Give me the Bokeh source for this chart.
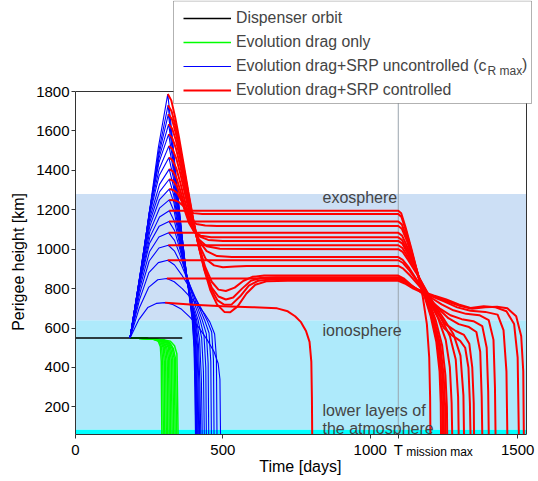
from bokeh.plotting import figure
from bokeh.models import (Range1d, BoxAnnotation, Label, Legend, LegendItem,
                          FixedTicker, LinearAxis)
from bokeh.embed import file_html
from bokeh.resources import INLINE

# ---------------- data ----------------
x_ticks = [0, 500, 1000, 1500]
y_ticks = [200, 400, 600, 800, 1000, 1200, 1400, 1600, 1800]
y_min, y_max = 60, 1800
x_min, x_max = 0, 1530
t_mission_max = 1095
subscript_tick = 1235

layer_bottom = [0, 85, 640]
layer_top = [85, 640, 1280]
layer_colors = ["#00FFFF", "#AEEAFB", "#CCDFF5"]

dispenser_t = [0, 362]
dispenser_h = [550, 550]

green_t = [
    [185, 240, 268, 281, 288, 291, 293],
    [185, 240, 272, 285, 292, 296, 298],
    [185, 240, 276, 289, 297, 301, 303],
    [185, 240, 280, 293, 301, 306, 308],
    [185, 240, 283, 297, 306, 311, 313],
    [185, 240, 287, 301, 310, 316, 318],
    [185, 240, 290, 305, 315, 320, 323],
    [185, 240, 293, 309, 319, 325, 328],
    [185, 240, 296, 313, 323, 330, 333],
    [185, 240, 299, 316, 328, 335, 338],
    [185, 240, 302, 320, 332, 339, 343],
    [185, 240, 305, 322, 336, 344, 348],
]
green_h = [
    [550, 547, 542, 532, 505, 430, 60],
    [550, 547, 542, 531, 504, 430, 60],
    [550, 547, 541, 531, 503, 432, 60],
    [550, 547, 541, 530, 502, 434, 60],
    [550, 547, 541, 530, 501, 435, 60],
    [550, 547, 540, 529, 500, 436, 60],
    [550, 547, 540, 529, 500, 438, 60],
    [550, 547, 540, 528, 499, 440, 60],
    [550, 547, 540, 528, 498, 442, 60],
    [550, 547, 539, 527, 497, 444, 60],
    [550, 547, 539, 526, 496, 446, 60],
    [550, 547, 538, 533, 510, 468, 60],
]

blue_t = [
    [185, 217, 249, 281, 313, 325, 340, 355, 370, 385, 396, 402, 405, 407],
    [185, 217, 250, 282, 314, 326, 341, 356, 371, 386, 397, 403, 406, 408],
    [185, 218, 250, 283, 315, 327, 342, 357, 372, 387, 398, 404, 407, 409],
    [185, 218, 251, 283, 316, 328, 343, 358, 373, 388, 399, 405, 408, 410],
    [185, 218, 251, 283, 316, 329, 344, 359, 374, 389, 400, 406, 409, 411],
    [185, 218, 251, 284, 317, 330, 345, 360, 375, 390, 401, 408, 411, 413],
    [185, 218, 251, 284, 317, 331, 346, 361, 376, 391, 402, 409, 413, 415],
    [185, 218, 252, 285, 318, 332, 347, 362, 377, 392, 404, 412, 416, 418],
    [185, 218, 252, 285, 318, 333, 348, 363, 378, 393, 406, 414, 419, 421],
    [185, 218, 252, 285, 318, 334, 349, 364, 379, 394, 408, 417, 422, 425],
    [185, 218, 252, 285, 318, 335, 350, 365, 380, 396, 411, 421, 427, 430],
    [185, 218, 252, 285, 318, 336, 352, 368, 384, 400, 416, 428, 434, 437],
    [185, 218, 251, 284, 317, 336, 354, 372, 390, 407, 423, 436, 442, 444],
    [185, 218, 251, 283, 316, 336, 356, 376, 396, 414, 430, 444, 450, 452],
    [185, 218, 250, 283, 315, 336, 358, 380, 402, 421, 438, 453, 459, 461],
    [185, 217, 249, 281, 313, 336, 360, 385, 408, 428, 446, 462, 468, 470],
    [185, 216, 248, 279, 310, 335, 362, 390, 415, 437, 456, 472, 478, 480],
    [185, 215, 245, 274, 304, 330, 360, 388, 415, 447, 470, 484, 490, 492],
]
blue_h = [
    [550, 822, 1169, 1515, 1787, 1620, 1390, 1160, 950, 770, 640, 500, 300, 60],
    [550, 833, 1175, 1494, 1730, 1580, 1360, 1140, 940, 765, 640, 500, 300, 60],
    [550, 845, 1186, 1481, 1685, 1550, 1335, 1125, 930, 760, 640, 500, 300, 60],
    [550, 854, 1190, 1461, 1634, 1510, 1300, 1100, 915, 755, 640, 500, 300, 60],
    [550, 860, 1191, 1439, 1584, 1465, 1265, 1075, 900, 750, 640, 500, 300, 60],
    [550, 862, 1183, 1407, 1524, 1420, 1230, 1050, 885, 745, 640, 500, 300, 60],
    [550, 861, 1172, 1374, 1465, 1370, 1195, 1025, 870, 740, 640, 500, 300, 60],
    [550, 858, 1158, 1329, 1406, 1320, 1160, 1000, 855, 735, 640, 500, 300, 60],
    [550, 856, 1138, 1291, 1355, 1275, 1130, 980, 845, 730, 640, 510, 300, 60],
    [550, 852, 1116, 1252, 1305, 1235, 1100, 960, 835, 725, 640, 520, 320, 60],
    [550, 844, 1089, 1208, 1250, 1190, 1070, 940, 825, 720, 640, 540, 340, 60],
    [550, 834, 1060, 1163, 1195, 1140, 1035, 920, 815, 715, 640, 550, 380, 60],
    [550, 822, 1029, 1117, 1141, 1095, 1000, 895, 800, 710, 640, 560, 400, 60],
    [550, 801, 987, 1062, 1083, 1045, 965, 870, 785, 705, 640, 570, 420, 60],
    [550, 776, 940, 1006, 1020, 990, 925, 845, 770, 700, 640, 575, 430, 60],
    [550, 743, 881, 932, 944, 920, 870, 810, 750, 695, 640, 580, 440, 60],
    [550, 700, 806, 845, 851, 835, 800, 755, 715, 675, 630, 570, 450, 60],
    [550, 643, 704, 725, 729, 720, 695, 655, 610, 540, 480, 420, 340, 60],
]

red_t = [
    [313, 325, 338, 352, 367, 383, 399, 417, 437, 458, 480, 505, 525, 550, 580, 610, 650, 720,
     1095, 1117, 1146, 1180, 1220, 1262, 1305, 1345, 1390, 1430, 1465, 1495, 1512, 1519, 1521],
    [314, 326, 339, 353, 368, 384, 400, 418, 438, 460, 482, 505, 530, 558, 588, 620, 670,
     1095, 1116, 1144, 1178, 1215, 1258, 1300, 1340, 1385, 1425, 1462, 1488, 1500, 1504],
    [315, 327, 340, 354, 369, 385, 401, 420, 440, 462, 485, 510, 535, 565, 595, 630, 680,
     1095, 1114, 1140, 1172, 1205, 1242, 1282, 1325, 1370, 1402, 1418, 1423, 1425],
    [316, 328, 341, 355, 370, 386, 402, 420, 440, 462, 485, 510, 540, 570, 600, 640,
     1095, 1113, 1138, 1168, 1200, 1235, 1272, 1310, 1350, 1380, 1395, 1400, 1402],
    [316, 328, 341, 355, 370, 386, 402, 420, 442, 470, 500, 540, 580,
     1095, 1112, 1136, 1165, 1196, 1230, 1265, 1300, 1335, 1360, 1373, 1378, 1380],
    [317, 329, 342, 356, 370, 385, 400, 420, 445, 480, 530,
     1095, 1110, 1132, 1160, 1190, 1220, 1250, 1280, 1305, 1322, 1333, 1338, 1340],
    [317, 329, 342, 356, 370, 385, 400, 418, 445, 490,
     1095, 1110, 1130, 1156, 1183, 1213, 1248, 1282, 1306, 1316, 1318],
    [318, 330, 343, 357, 371, 385, 400, 420, 450, 500,
     1095, 1109, 1128, 1152, 1176, 1202, 1230, 1256, 1270, 1276, 1278],
    [318, 331, 344, 358, 372, 386, 402, 425, 460,
     1095, 1108, 1127, 1150, 1173, 1197, 1222, 1244, 1255, 1260, 1261],
    [318, 332, 345, 360, 375, 390, 410, 440, 480,
     1095, 1107, 1125, 1146, 1168, 1190, 1213, 1233, 1244, 1249, 1250],
    [318, 335, 350, 365, 380, 400, 430,
     1095, 1106, 1122, 1142, 1162, 1182, 1205, 1224, 1235, 1239, 1240],
    [318, 1095, 1105, 1120, 1140, 1160, 1178, 1192, 1200, 1203, 1204],
    [317, 1095, 1107, 1124, 1144, 1165, 1186, 1209, 1228, 1239, 1244, 1245],
    [316, 1095, 1108, 1126, 1148, 1170, 1193, 1217, 1238, 1249, 1254, 1255],
    [315, 1095, 1109, 1129, 1154, 1180, 1208, 1240, 1270, 1290, 1298, 1300],
    [313, 1095, 1111, 1134, 1162, 1192, 1222, 1255, 1290, 1318, 1336, 1346, 1351, 1352],
    [310, 1095, 1115, 1142, 1175, 1210, 1250, 1295, 1340, 1390, 1432, 1452, 1462, 1465],
    [304, 330, 400, 500, 600, 684, 720, 745, 765, 782, 794, 800, 802, 803],
]
red_h = [
    [1787, 1755, 1670, 1560, 1430, 1290, 1155, 1020, 895, 790, 720, 682, 680, 710, 775, 820, 838, 840,
     840, 826, 800, 778, 758, 735, 712, 698, 706, 708, 700, 660, 560, 380, 60],
    [1730, 1700, 1625, 1525, 1405, 1270, 1145, 1015, 895, 800, 740, 718, 720, 760, 815, 840, 848,
     848, 835, 808, 785, 765, 745, 720, 702, 710, 705, 685, 620, 450, 60],
    [1685, 1660, 1590, 1495, 1380, 1250, 1130, 1005, 895, 805, 760, 745, 755, 800, 840, 855, 858,
     858, 845, 815, 785, 755, 720, 690, 672, 665, 640, 540, 300, 60],
    [1634, 1612, 1550, 1460, 1350, 1230, 1120, 1010, 910, 835, 795, 788, 805, 840, 860, 866,
     866, 852, 820, 785, 745, 700, 665, 645, 635, 610, 500, 280, 60],
    [1584, 1565, 1510, 1425, 1320, 1210, 1110, 1020, 950, 918, 908, 912, 915,
     915, 901, 865, 815, 760, 700, 650, 620, 605, 580, 480, 250, 60],
    [1524, 1508, 1460, 1380, 1290, 1195, 1115, 1040, 990, 965, 960,
     960, 946, 905, 840, 770, 680, 600, 560, 535, 500, 400, 220, 60],
    [1465, 1452, 1410, 1335, 1250, 1170, 1100, 1050, 1015, 1002,
     1000, 986, 942, 880, 810, 730, 650, 570, 460, 260, 60],
    [1406, 1396, 1360, 1290, 1215, 1150, 1100, 1065, 1047, 1042,
     1042, 1028, 975, 900, 820, 740, 650, 540, 400, 220, 60],
    [1355, 1348, 1320, 1260, 1190, 1130, 1090, 1068, 1061,
     1060, 1046, 990, 910, 825, 745, 640, 510, 360, 200, 60],
    [1305, 1300, 1285, 1245, 1190, 1150, 1128, 1120, 1118,
     1118, 1104, 1040, 945, 845, 755, 645, 515, 365, 200, 60],
    [1250, 1248, 1240, 1220, 1198, 1183, 1178,
     1178, 1163, 1090, 980, 870, 770, 660, 530, 380, 220, 60],
    [1195, 1195, 1182, 1110, 1000, 880, 760, 620, 450, 250, 60],
    [1141, 1141, 1126, 1060, 960, 855, 760, 650, 520, 370, 200, 60],
    [1083, 1083, 1069, 1010, 925, 835, 750, 640, 510, 360, 200, 60],
    [1020, 1020, 1006, 958, 890, 815, 735, 650, 560, 440, 250, 60],
    [944, 944, 930, 890, 830, 765, 690, 620, 585, 565, 520, 400, 220, 60],
    [851, 851, 838, 810, 785, 760, 735, 705, 688, 682, 668, 590, 380, 60],
    [729, 726, 718, 710, 706, 700, 685, 660, 630, 585, 530, 430, 250, 60],
]

legend_labels = ["Dispenser orbit", "Evolution drag only",
                 "Evolution drag+SRP uncontrolled (c", "Evolution drag+SRP controlled"]
legend_sub = ["R max", ")"]
layer_texts = ["exosphere", "ionosphere", "lower layers of", "the atmosphere"]
t_label = ["T", "mission max"]

# ---------------- figure ----------------
FONT = "Liberation Sans"
W, H = 538, 481
BOX_L, BOX_R, BOX_T, BOX_B = 75, 526, 91, 434     # canvas px of the axes box
NB = "\u00a0"

ky = (y_max - y_min) / (BOX_B - BOX_T)            # km per px
kx = (x_max - x_min) / (BOX_R - BOX_L)            # days per px
# the frame reaches the top and right canvas edges so the legend may overlap the box
y_top = y_max + BOX_T * ky
x_right = x_max + (W - BOX_R) * kx


def cx(px):
    return x_min + (px - BOX_L) * kx


def cy(py):
    return y_max + (BOX_T - py) * ky


p = figure(width=W, height=H, title=None, output_backend="svg", toolbar_location=None,
           x_range=Range1d(x_min, x_right), y_range=Range1d(y_min, y_top),
           min_border_left=BOX_L, min_border_right=0, min_border_top=0,
           min_border_bottom=H - BOX_B)
p.xgrid.visible = False
p.ygrid.visible = False
p.outline_line_color = None
p.background_fill_color = "white"
p.border_fill_color = "white"

for b, t, c in zip(layer_bottom, layer_top, layer_colors):
    p.add_layout(BoxAnnotation(bottom=b, top=t, left=x_min, right=x_max, fill_color=c,
                               fill_alpha=1.0, line_color=None, level="underlay"))

# box top and right edges
p.segment(x0=[x_min, x_max], y0=[y_max, y_min], x1=[x_max, x_max], y1=[y_max, y_max],
          line_color="#333333", line_width=1)

p.segment(x0=[t_mission_max], y0=[y_min], x1=[t_mission_max], y1=[y_max],
          line_color="#9AA4AE", line_width=1)

r_green = p.multi_line(green_t, green_h, line_color="#00FF00", line_width=1.5)
r_black = p.line(dispenser_t, dispenser_h, line_color="black", line_width=1.5)
r_blue = p.multi_line(blue_t, blue_h, line_color="#0000FF", line_width=1.1)
r_red = p.multi_line(red_t, red_h, line_color="#FF0000", line_width=2)

# ---- axes ----
xa = p.xaxis[0]
ya = p.yaxis[0]
for ax in (xa, ya):
    ax.axis_line_color = "#333333"
    ax.major_tick_line_color = "#333333"
    ax.minor_tick_line_color = None
    ax.major_label_text_font = FONT
    ax.major_label_text_font_size = "15px"
    ax.major_label_text_color = "black"
    ax.axis_label_text_font = FONT
    ax.axis_label_text_font_size = "16px"
    ax.axis_label_text_font_style = "normal"
    ax.axis_label_text_color = "black"

ya.bounds = (y_min, y_max)
ya.ticker = FixedTicker(ticks=y_ticks)
ya.axis_label = "Perigee height [km]" + NB * 20   # padding re-centres the title on the box
ya.major_tick_in = 0
ya.major_tick_out = 4
ya.major_label_standoff = 2
ya.axis_label_standoff = 6

xa.bounds = (x_min, x_max)
xa.ticker = FixedTicker(ticks=x_ticks + [t_mission_max])
xa.major_label_overrides = {t_mission_max: t_label[0]}
xa.major_tick_in = 0
xa.major_tick_out = 4
xa.major_label_standoff = 2

# second bottom axis: subscript of T and the axis title
xa2 = LinearAxis(ticker=FixedTicker(ticks=[subscript_tick]), bounds=(x_min, x_max),
                 major_label_overrides={subscript_tick: t_label[1]},
                 axis_line_color=None, major_tick_line_color=None, minor_tick_line_color=None,
                 major_tick_in=0, major_tick_out=0, major_label_standoff=-16,
                 major_label_text_font=FONT, major_label_text_font_size="12px",
                 major_label_text_color="black",
                 axis_label="Time [days]" + NB * 3, axis_label_text_font=FONT,
                 axis_label_text_font_size="16px", axis_label_text_font_style="normal",
                 axis_label_text_color="black", axis_label_standoff=-4)
p.add_layout(xa2, "below")

# layer names
for txt, px, py in zip(layer_texts, [322, 322, 322, 322], [197, 330, 410, 428]):
    p.add_layout(Label(x=cx(px), y=cy(py), text=txt, text_font=FONT, text_font_size="16px",
                       text_baseline="middle", text_align="left"))

# legend frame (drawn as a box so the subscript labels can sit on top of it)
p.add_layout(BoxAnnotation(left=cx(173), right=cx(531), top=cy(0.5), bottom=cy(103),
                           fill_color="white", fill_alpha=1.0, line_color="black",
                           line_width=1))

legend = Legend(items=[
    LegendItem(label=legend_labels[0], renderers=[r_black]),
    LegendItem(label=legend_labels[1], renderers=[r_green]),
    LegendItem(label=legend_labels[2], renderers=[r_blue]),
    LegendItem(label=legend_labels[3], renderers=[r_red]),
], location=(183 - BOX_L, BOX_B - 100))
legend.label_text_font = FONT
legend.label_text_font_size = "15.8px"
legend.glyph_width = 48
legend.glyph_height = 20
legend.label_height = 20
legend.label_standoff = 5
legend.padding = 5
legend.spacing = 4
legend.margin = 0
legend.border_line_color = None
legend.background_fill_alpha = 0.0
p.add_layout(legend)

p.add_layout(Label(x=cx(487), y=cy(70), text=legend_sub[0],
                   text_font=FONT, text_font_size="12px", text_baseline="middle",
                   text_align="left"))
p.add_layout(Label(x=cx(521.5), y=cy(64), text=legend_sub[1],
                   text_font=FONT, text_font_size="15.8px", text_baseline="middle",
                   text_align="left"))

open("out.html", "w").write(file_html(p, INLINE))
